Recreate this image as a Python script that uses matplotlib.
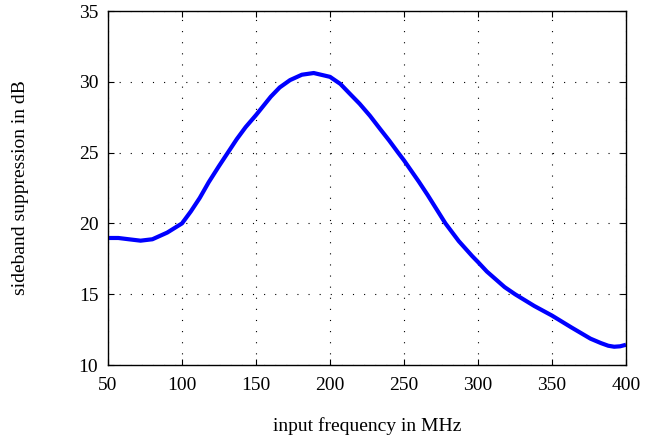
import matplotlib
matplotlib.use("Agg")
import matplotlib.pyplot as plt

freq_mhz = [50, 57, 64, 72, 80, 90, 100, 106, 112, 118, 125, 131, 137, 143, 150, 160,
            166, 173, 181, 189, 200, 207, 213, 220, 227, 234, 240, 246, 250, 255,
            260, 266, 272, 278, 287, 296, 300, 306, 312, 318, 325, 338, 350, 363,
            376, 383, 388, 392, 396, 400]
suppression_db = [18.97, 18.97, 18.88, 18.78, 18.88, 19.35, 20.0, 20.85, 21.8, 22.9,
                  24.05, 25.0, 25.95, 26.8, 27.65, 28.95, 29.6, 30.12, 30.5, 30.62,
                  30.35, 29.85, 29.2, 28.45, 27.6, 26.65, 25.85, 25.0, 24.45, 23.7,
                  22.95, 22.0, 21.0, 20.0, 18.75, 17.7, 17.27, 16.6, 16.05, 15.5,
                  15.0, 14.17, 13.49, 12.66, 11.86, 11.55, 11.36, 11.29, 11.32, 11.43]
xticks = [50, 100, 150, 200, 250, 300, 350, 400]
yticks = [10, 15, 20, 25, 30, 35]

plt.rcParams['font.family'] = ['Liberation Serif', 'DejaVu Serif']

fig = plt.figure(figsize=(6.54, 4.38), dpi=100)
ax = fig.add_axes([108/654, 1-365/438, (626-108)/654, (365-11)/438])
ax.plot(freq_mhz, suppression_db, color=(0, 0, 1), linewidth=3,
        solid_joinstyle='round', solid_capstyle='butt')
ax.set_xlim(50, 400)
ax.set_ylim(10, 35)
ax.set_xticks(xticks)
ax.set_yticks(yticks)
ax.grid(True, color='black', linestyle=(0, (1, 9)), linewidth=0.8)
ax.tick_params(direction='in', top=True, right=True, labelsize=14, length=4,
               width=0.8)
ax.tick_params(axis='x', pad=9)
ax.tick_params(axis='y', pad=7)
for s in ax.spines.values():
    s.set_linewidth(1.0)
ax.set_xlabel('input frequency in MHz', fontsize=14, labelpad=16)
ax.set_ylabel('sideband suppression in dB', fontsize=14, labelpad=36)
fig.savefig('out.png', dpi=100)
